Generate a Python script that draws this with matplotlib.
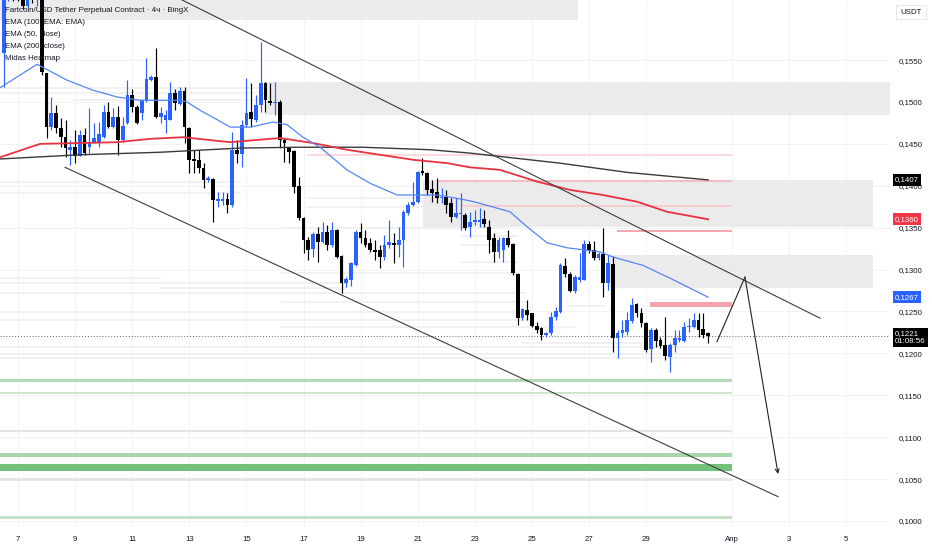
import matplotlib
matplotlib.use("Agg")
import matplotlib.pyplot as plt

plt.rcParams['font.family'] = ['Liberation Sans', 'DejaVu Sans']

# 4h свечи, первая - 6 марта 12:00 (день месяца + доля суток)
first_day = 6.5
opens = [0.1558, 0.1628, 0.1650, 0.1632, 0.1625, 0.1615, 0.1630, 0.1622, 0.1630, 0.1535,
         0.1470, 0.1487, 0.1469, 0.1458, 0.1443, 0.1446, 0.1436, 0.1461, 0.1446, 0.1451,
         0.1451, 0.1458, 0.1488, 0.1470, 0.1482, 0.1455, 0.1475, 0.1508, 0.1494, 0.1487,
         0.1502, 0.1526, 0.1530, 0.1482, 0.1479, 0.1479, 0.1511, 0.1498, 0.1513, 0.1469,
         0.1432, 0.1431, 0.1421, 0.1407, 0.1408, 0.1382, 0.1382, 0.1384, 0.1377, 0.1443,
         0.1438, 0.1473, 0.1488, 0.1479, 0.1496, 0.1523, 0.1501, 0.1499, 0.1500, 0.1455,
         0.1445, 0.1441, 0.1400, 0.1362, 0.1335, 0.1325, 0.1342, 0.1333, 0.1345, 0.1329,
         0.1347, 0.1316, 0.1284, 0.1288, 0.1305, 0.1345, 0.1338, 0.1332, 0.1323, 0.1323,
         0.1315, 0.1329, 0.1332, 0.1329, 0.1335, 0.1368, 0.1377, 0.1381, 0.1418, 0.1415,
         0.1396, 0.1393, 0.1385, 0.1387, 0.1379, 0.1363, 0.1366, 0.1365, 0.1351, 0.1357,
         0.1357, 0.1360, 0.1351, 0.1338, 0.1321, 0.1323, 0.1338, 0.1331, 0.1295, 0.1242,
         0.1252, 0.1248, 0.1233, 0.1230, 0.1222, 0.1224, 0.1243, 0.1249, 0.1304, 0.1295,
         0.1274, 0.1288, 0.1288, 0.1331, 0.1323, 0.1314, 0.1319, 0.1284, 0.1307, 0.1218,
         0.1224, 0.1226, 0.1239, 0.1259, 0.1248, 0.1236, 0.1205, 0.1228, 0.1216, 0.1210,
         0.1196, 0.1210, 0.1216, 0.1215, 0.1231, 0.1232, 0.1240, 0.1229, 0.1224]
highs = [0.1640, 0.1660, 0.1665, 0.1648, 0.1640, 0.1635, 0.1645, 0.1640, 0.1638, 0.1535,
         0.1506, 0.1496, 0.1481, 0.1479, 0.1455, 0.1467, 0.1467, 0.1469, 0.1493, 0.1475,
         0.1476, 0.1496, 0.1500, 0.1493, 0.1495, 0.1482, 0.1526, 0.1515, 0.1496, 0.1503,
         0.1552, 0.1532, 0.1564, 0.1494, 0.1490, 0.1524, 0.1516, 0.1518, 0.1518, 0.1470,
         0.1443, 0.1443, 0.1427, 0.1412, 0.1409, 0.1393, 0.1393, 0.1391, 0.1464, 0.1455,
         0.1479, 0.1529, 0.1523, 0.1508, 0.1572, 0.1524, 0.1523, 0.1524, 0.1502, 0.1457,
         0.1446, 0.1443, 0.1410, 0.1363, 0.1339, 0.1345, 0.1351, 0.1357, 0.1353, 0.1357,
         0.1348, 0.1317, 0.1291, 0.1309, 0.1347, 0.1356, 0.1347, 0.1338, 0.1335, 0.1329,
         0.1341, 0.1359, 0.1344, 0.1351, 0.1371, 0.1381, 0.1405, 0.1418, 0.1433, 0.1416,
         0.1407, 0.1409, 0.1397, 0.1395, 0.1385, 0.1385, 0.1391, 0.1368, 0.1369, 0.1371,
         0.1373, 0.1371, 0.1359, 0.1344, 0.1339, 0.1339, 0.1347, 0.1332, 0.1296, 0.1254,
         0.1264, 0.1248, 0.1237, 0.1231, 0.1226, 0.1249, 0.1255, 0.1308, 0.1314, 0.1297,
         0.1294, 0.1320, 0.1335, 0.1334, 0.1334, 0.1321, 0.1350, 0.1317, 0.1316, 0.1228,
         0.1240, 0.1249, 0.1266, 0.1260, 0.1254, 0.1237, 0.1230, 0.1230, 0.1220, 0.1243,
         0.1212, 0.1228, 0.1228, 0.1237, 0.1242, 0.1248, 0.1248, 0.1248, 0.1225]
lows = [0.1518, 0.1620, 0.1620, 0.1620, 0.1611, 0.1612, 0.1618, 0.1615, 0.1532, 0.1457,
        0.1467, 0.1463, 0.1446, 0.1434, 0.1425, 0.1427, 0.1435, 0.1437, 0.1439, 0.1451,
        0.1446, 0.1457, 0.1469, 0.1469, 0.1437, 0.1452, 0.1474, 0.1488, 0.1474, 0.1479,
        0.1500, 0.1525, 0.1481, 0.1475, 0.1463, 0.1478, 0.1490, 0.1496, 0.1451, 0.1415,
        0.1415, 0.1415, 0.1397, 0.1404, 0.1357, 0.1375, 0.1377, 0.1368, 0.1375, 0.1427,
        0.1422, 0.1470, 0.1470, 0.1476, 0.1488, 0.1488, 0.1496, 0.1484, 0.1445, 0.1428,
        0.1427, 0.1391, 0.1359, 0.1320, 0.1311, 0.1315, 0.1309, 0.1332, 0.1323, 0.1327,
        0.1314, 0.1272, 0.1279, 0.1280, 0.1304, 0.1332, 0.1327, 0.1321, 0.1311, 0.1302,
        0.1311, 0.1326, 0.1308, 0.1315, 0.1303, 0.1365, 0.1376, 0.1379, 0.1413, 0.1389,
        0.1381, 0.1379, 0.1379, 0.1368, 0.1357, 0.1362, 0.1347, 0.1347, 0.1339, 0.1353,
        0.1351, 0.1351, 0.1320, 0.1309, 0.1314, 0.1309, 0.1327, 0.1294, 0.1234, 0.1240,
        0.1240, 0.1232, 0.1224, 0.1216, 0.1220, 0.1222, 0.1240, 0.1248, 0.1291, 0.1273,
        0.1272, 0.1285, 0.1287, 0.1320, 0.1311, 0.1311, 0.1267, 0.1276, 0.1202, 0.1195,
        0.1220, 0.1222, 0.1236, 0.1243, 0.1232, 0.1202, 0.1190, 0.1208, 0.1206, 0.1192,
        0.1178, 0.1202, 0.1214, 0.1214, 0.1226, 0.1230, 0.1220, 0.1218, 0.1212]
closes = [0.1628, 0.1650, 0.1632, 0.1625, 0.1615, 0.1630, 0.1622, 0.1630, 0.1536, 0.1470,
          0.1487, 0.1469, 0.1458, 0.1445, 0.1446, 0.1436, 0.1461, 0.1439, 0.1451, 0.1457,
          0.1462, 0.1488, 0.1470, 0.1482, 0.1455, 0.1471, 0.1508, 0.1494, 0.1475, 0.1502,
          0.1527, 0.1530, 0.1482, 0.1487, 0.1484, 0.1511, 0.1499, 0.1513, 0.1470, 0.1431,
          0.1429, 0.1421, 0.1407, 0.1409, 0.1383, 0.1384, 0.1384, 0.1377, 0.1443, 0.1438,
          0.1473, 0.1487, 0.1480, 0.1496, 0.1523, 0.1502, 0.1499, 0.1500, 0.1455, 0.1451,
          0.1440, 0.1399, 0.1362, 0.1335, 0.1323, 0.1342, 0.1333, 0.1345, 0.1329, 0.1347,
          0.1315, 0.1284, 0.1289, 0.1308, 0.1345, 0.1338, 0.1329, 0.1323, 0.1321, 0.1315,
          0.1329, 0.1333, 0.1329, 0.1335, 0.1369, 0.1377, 0.1381, 0.1416, 0.1415, 0.1395,
          0.1391, 0.1385, 0.1387, 0.1377, 0.1363, 0.1368, 0.1368, 0.1350, 0.1357, 0.1359,
          0.1359, 0.1354, 0.1335, 0.1321, 0.1335, 0.1338, 0.1329, 0.1296, 0.1242, 0.1253,
          0.1246, 0.1233, 0.1228, 0.1222, 0.1224, 0.1243, 0.1251, 0.1305, 0.1295, 0.1274,
          0.1291, 0.1291, 0.1331, 0.1322, 0.1314, 0.1319, 0.1284, 0.1308, 0.1218, 0.1224,
          0.1228, 0.1240, 0.1258, 0.1248, 0.1236, 0.1204, 0.1228, 0.1215, 0.1209, 0.1197,
          0.1210, 0.1218, 0.1218, 0.1231, 0.1233, 0.1240, 0.1228, 0.1222, 0.1221]

# EMA - значения
ema50_days = [6.37, 7.67, 8.72, 9.63, 10.47, 11.27, 11.97, 12.67, 12.92, 13.38,
              13.97, 14.43, 15.13, 15.93, 16.42, 16.98, 17.58, 18.52, 19.33, 20.28,
              20.98, 21.68, 22.38, 22.83, 23.18, 24.23, 24.83, 25.53, 26.23, 26.93,
              27.39, 27.84, 28.89, 29.94, 31.17]
ema50_vals = [0.1517, 0.1545, 0.1526, 0.1514, 0.1506, 0.1502, 0.1502, 0.1502, 0.1500, 0.1490,
              0.1479, 0.1470, 0.1470, 0.1476, 0.1473, 0.1458, 0.1446, 0.1419, 0.1403, 0.1389,
              0.1389, 0.1389, 0.1385, 0.1382, 0.1379, 0.1369, 0.1351, 0.1332, 0.1326, 0.1323,
              0.1321, 0.1315, 0.1305, 0.1288, 0.1267]
ema200_days = [6.37, 7.77, 9.17, 10.47, 11.62, 12.78, 14.43, 16.18, 17.33, 18.52, 19.68,
               20.84, 22.03, 22.83, 23.88, 25.18, 26.34, 27.49, 28.68, 29.73, 31.17]
ema200_vals = [0.1434, 0.1450, 0.1451, 0.1452, 0.1456, 0.1458, 0.1452, 0.1457, 0.1451, 0.1443, 0.1437,
               0.1431, 0.1427, 0.1422, 0.1419, 0.1405, 0.1395, 0.1389, 0.1381, 0.1369, 0.1360]
ema100_days = [6.37, 9.17, 11.97, 14.78, 16.77, 19.08, 21.43, 22.83, 25.98, 28.33, 31.17]
ema100_vals = [0.1432, 0.1437, 0.1440, 0.1445, 0.1446, 0.1446, 0.1443, 0.1439, 0.1427, 0.1416, 0.1407]

# трендовые линии канала и прогноз
upper_line_days = [12.32, 35.09]
upper_line_vals = [0.1629, 0.1242]
lower_line_days = [8.65, 33.62]
lower_line_vals = [0.1422, 0.1029]
path_days = [31.48, 32.46, 33.62]
path_vals = [0.1214, 0.1291, 0.1056]

# серые зоны Midas Heatmap: начало, конец, низ, верх
zone_start = [6.37, 15.65, 21.19, 27.74]
zone_end = [26.61, 37.54, 36.95, 36.95]
zone_low = [0.1598, 0.1484, 0.1351, 0.1278]
zone_high = [0.1680, 0.1524, 0.1407, 0.1317]

# уровни до 1 апреля: начало, низ, верх, цвет
level_end = 32.0
level_start = [17.12, 21.68, 22.48, 27.98, 29.14,
               6.37, 6.37, 6.37, 6.37, 6.37, 6.37, 6.37]
level_low = [0.14355, 0.14048, 0.13750, 0.13448, 0.1255,
             0.1166, 0.1152, 0.1106, 0.1076, 0.1060, 0.1048, 0.1002]
level_high = [0.14375, 0.14066, 0.13766, 0.13470, 0.1261,
              0.1170, 0.1154, 0.1109, 0.1081, 0.1068, 0.1051, 0.1006]
level_colors = ['#fadadd', '#f5bcc1', '#f7cdd0', '#f3aab0', '#f4a5ab',
                '#b2dab3', '#cde7cd', '#e4e4e4', '#a8d7a9', '#74c279', '#e6e6e6', '#c3e3c4']

# бледные линии тепловой карты: цена, начало, конец
faint_price = [0.1517, 0.1511, 0.1502, 0.1405, 0.1391, 0.1385, 0.1375, 0.1350, 0.1340, 0.1329,
               0.1309, 0.1296, 0.1290, 0.1284, 0.1278, 0.1272, 0.1261, 0.1257, 0.1249, 0.1240,
               0.1232, 0.1212, 0.1208, 0.1199, 0.1195]
faint_start = [6.37, 6.37, 8.93, 6.37, 6.37, 17.1, 17.1, 16.2, 22.5, 22.5,
               22.5, 16.2, 6.37, 6.37, 11.97, 6.37, 16.2, 26.3, 6.37, 6.37,
               16.2, 24.6, 6.37, 6.37, 6.37]
faint_end = [15.6, 15.6, 15.6, 14.8, 14.8, 21.2, 21.2, 24.0, 24.5, 24.5,
             24.5, 24.5, 12.0, 18.5, 18.5, 24.8, 24.8, 27.6, 24.8, 24.8,
             26.5, 28.9, 32.0, 32.0, 32.0]

price_ticks = [0.1000, 0.1050, 0.1100, 0.1150, 0.1200, 0.1250, 0.1300,
               0.1350, 0.1400, 0.1450, 0.1500, 0.1550]
day_ticks = [7, 9, 11, 13, 15, 17, 19, 21, 23, 25, 27, 29, 32, 34, 36]
day_labels = ['7', '9', '11', '13', '15', '17', '19', '21', '23', '25', '27', '29', 'Апр', '3', '5']

last_price = 0.1221
legend_lines = ['Fartcoin/USD Tether Perpetual Contract · 4ч · BingX',
                'EMA (100, EMA: EMA)', 'EMA (50, close)', 'EMA (200, close)', 'Midas Heatmap']

UP = '#2962ff'
DOWN = '#000000'
TXT = '#131722'

fig = plt.figure(figsize=(9.32, 5.5), dpi=100)
ax = fig.add_axes([0, 23 / 550, 890 / 932, 527 / 550])
ax.set_xlim(6.37, 37.54)
ax.set_ylim(0.09928, 0.16217)

# зоны и уровни
for x0, x1, lo, hi in zip(zone_start, zone_end, zone_low, zone_high):
    ax.fill_between([x0, x1], lo, hi, color='#ebebeb', lw=0, zorder=1)
for x0, lo, hi, c in zip(level_start, level_low, level_high, level_colors):
    ax.fill_between([x0, level_end], lo, hi, color=c, lw=0, zorder=1.2)
for p, x0, x1 in zip(faint_price, faint_start, faint_end):
    ax.plot([x0, x1], [p, p], color='#eeeeee', lw=1.1, zorder=1.1, solid_capstyle='butt')

# свечи
days = [first_day + i / 6 for i in range(len(closes))]
colors = [UP if c >= o else DOWN for o, c in zip(opens, closes)]
ax.vlines(days, lows, highs, colors=colors, lw=0.85, zorder=3)
bottoms = [min(o, c) for o, c in zip(opens, closes)]
heights = [max(abs(c - o), 0.0001) for o, c in zip(opens, closes)]
ax.bar(days, heights, bottom=bottoms, width=0.13, color=colors, lw=0, zorder=3.1)

# EMA
ax.plot(ema100_days, ema100_vals, color='#3a3a3a', lw=1.0, zorder=4)
ax.plot(ema200_days, ema200_vals, color='#e8323f', lw=1.3, zorder=4)
ax.plot(ema50_days, ema50_vals, color='#5585f5', lw=0.9, zorder=4)

# канал и прогноз
ax.plot(upper_line_days, upper_line_vals, color='#3c3c3c', lw=0.8, zorder=5)
ax.plot(lower_line_days, lower_line_vals, color='#3c3c3c', lw=0.8, zorder=5)
ax.plot(path_days[:2], path_vals[:2], color='#222222', lw=0.8, zorder=5)
ax.annotate('', xy=(path_days[2], path_vals[2]), xytext=(path_days[1], path_vals[1]),
            arrowprops=dict(arrowstyle='->', color='#222222', lw=0.8,
                            shrinkA=0, shrinkB=0, mutation_scale=7), zorder=5)

ax.axhline(last_price, color='#5d606b', lw=0.7, ls=(0, (1, 2)), zorder=2)

# оси
for s in ax.spines.values():
    s.set_visible(False)
ax.yaxis.tick_right()
ax.set_yticks(price_ticks)
ax.set_yticklabels([f'{v:.4f}'.replace('.', ',') for v in price_ticks])
ax.set_xticks(day_ticks)
ax.set_xticklabels(day_labels)
ax.tick_params(axis='y', length=0, pad=6, labelsize=5.7, labelcolor=TXT)
ax.tick_params(axis='x', length=0, pad=6.5, labelsize=5.7, labelcolor=TXT)
ax.grid(True, color='#f0f1f4', lw=0.6)
ax.set_axisbelow(True)

# метки последних значений
badges = [(0.1407, '0,1407', '#000000'), (0.1360, '0,1360', '#f23645'),
          (0.1267, '0,1267', '#2962ff')]
for p, t, c in badges:
    ax.text(1.0055, p, t, transform=ax.get_yaxis_transform(), ha='left', va='center',
            fontsize=5.7, color='white', clip_on=False, zorder=10,
            bbox=dict(boxstyle='square,pad=0.3', fc=c, ec='none'))
ax.annotate(f'{last_price:.4f}'.replace('.', ',') + '\n01:08:56', xy=(1.0055, last_price),
            xycoords=ax.get_yaxis_transform(), xytext=(0, 4), textcoords='offset points',
            ha='left', va='top', fontsize=5.7, color='white', linespacing=1.15,
            annotation_clip=False, zorder=10,
            bbox=dict(boxstyle='square,pad=0.3', fc='#000000', ec='none'))

fig.text(911 / 932, 1 - 12 / 550, 'USDT', ha='center', va='center', fontsize=5.7, color=TXT,
         bbox=dict(boxstyle='square,pad=0.5', fc='white', ec='#e0e3eb', lw=0.6))

for k, line in enumerate(legend_lines):
    fig.text(5 / 932, 1 - (11 + 11.8 * k) / 550, line, ha='left', va='center',
             fontsize=5.7, color=TXT, zorder=20)

fig.savefig('out.png', dpi=100, facecolor='white')
